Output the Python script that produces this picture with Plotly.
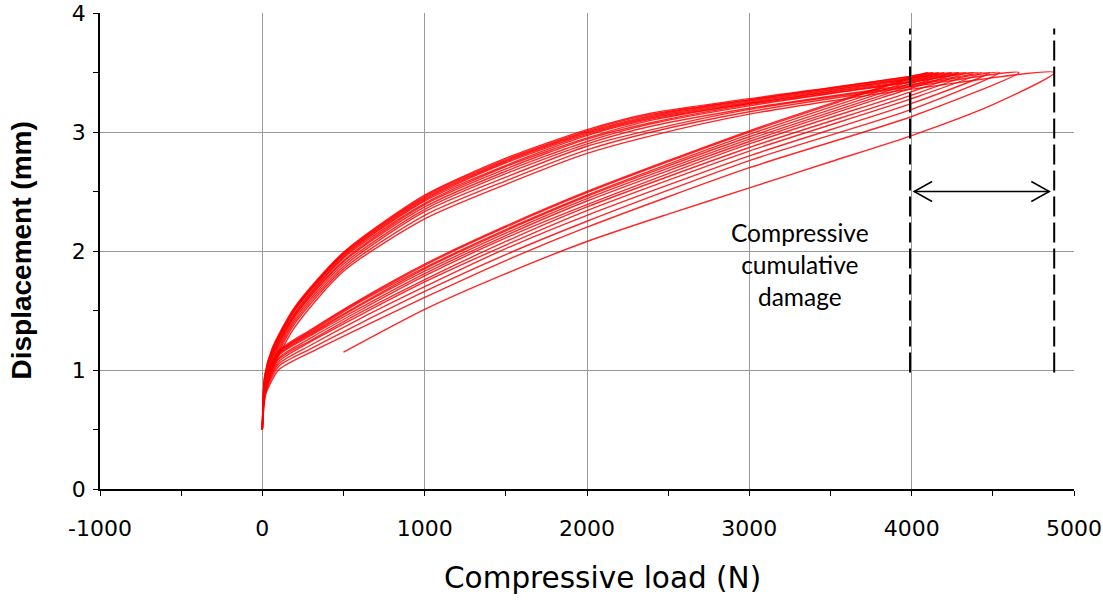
import plotly.graph_objects as go

# Peak of every load cycle (N); all cycles peak at the same displacement (mm)
PEAK_LOAD = [4880, 4660, 4540, 4480, 4430, 4380, 4335, 4290, 4245, 4200, 4165, 4130, 4100]
PEAK_DISP = 3.5

# First loading ramp, starting from the preload
FIRST_LOAD_N = [500, 1000, 1500, 2000, 2500, 3000, 3500, 4000, 4500]
FIRST_LOAD_DISP = [1.15, 1.51, 1.81, 2.08, 2.31, 2.53, 2.75, 2.97, 3.23]

# Reloading branches of cycles 2..13
RELOAD_N = [20, 100, 300, 600, 1000, 1500, 2000, 3000, 4000]
RELOAD_DISP = [
    [0.80, 1.00, 1.15, 1.35, 1.61, 1.92, 2.20, 2.70, 3.13],
    [0.82, 1.03, 1.18, 1.39, 1.66, 1.97, 2.25, 2.76, 3.19],
    [0.84, 1.05, 1.21, 1.43, 1.70, 2.02, 2.30, 2.80, 3.24],
    [0.85, 1.07, 1.24, 1.46, 1.74, 2.05, 2.34, 2.84, 3.28],
    [0.87, 1.09, 1.25, 1.48, 1.76, 2.08, 2.37, 2.87, 3.31],
    [0.88, 1.10, 1.27, 1.50, 1.79, 2.11, 2.39, 2.90, 3.34],
    [0.89, 1.12, 1.29, 1.52, 1.81, 2.13, 2.42, 2.92, 3.37],
    [0.89, 1.13, 1.30, 1.54, 1.83, 2.15, 2.44, 2.94, 3.39],
    [0.90, 1.14, 1.31, 1.55, 1.85, 2.17, 2.46, 2.96, 3.41],
    [0.91, 1.15, 1.32, 1.57, 1.86, 2.18, 2.47, 2.98, 3.43],
    [0.92, 1.15, 1.33, 1.58, 1.88, 2.20, 2.49, 3.00, 3.45],
    [0.92, 1.16, 1.34, 1.59, 1.89, 2.21, 2.50, 3.01, 3.46],
]

# Unloading branches of cycles 1..13 (from the peak back to zero load)
UNLOAD_N = [4000, 3000, 2400, 2000, 1500, 1000, 500, 200, 60, 15, 0]
UNLOAD_DISP = [
    [3.36, 3.15, 2.97, 2.82, 2.56, 2.27, 1.83, 1.36, 1.00, 0.75, 0.50],
    [3.38, 3.17, 3.00, 2.85, 2.59, 2.30, 1.85, 1.39, 1.03, 0.78, 0.50],
    [3.39, 3.19, 3.02, 2.88, 2.62, 2.33, 1.87, 1.41, 1.05, 0.81, 0.50],
    [3.40, 3.20, 3.05, 2.90, 2.65, 2.35, 1.89, 1.43, 1.07, 0.83, 0.50],
    [3.42, 3.22, 3.07, 2.92, 2.67, 2.37, 1.91, 1.45, 1.09, 0.86, 0.50],
    [3.42, 3.23, 3.08, 2.94, 2.69, 2.39, 1.92, 1.46, 1.10, 0.87, 0.50],
    [3.43, 3.24, 3.10, 2.95, 2.71, 2.40, 1.94, 1.47, 1.12, 0.89, 0.50],
    [3.44, 3.24, 3.11, 2.97, 2.72, 2.42, 1.95, 1.48, 1.13, 0.90, 0.50],
    [3.45, 3.25, 3.12, 2.98, 2.74, 2.43, 1.96, 1.50, 1.14, 0.92, 0.50],
    [3.45, 3.26, 3.13, 2.99, 2.75, 2.44, 1.97, 1.51, 1.15, 0.93, 0.50],
    [3.46, 3.27, 3.14, 3.00, 2.76, 2.45, 1.98, 1.51, 1.16, 0.94, 0.50],
    [3.47, 3.27, 3.15, 3.01, 2.77, 2.46, 1.98, 1.52, 1.17, 0.95, 0.50],
    [3.47, 3.28, 3.16, 3.02, 2.78, 2.47, 1.99, 1.53, 1.18, 0.96, 0.50],
]

# Axis ticks
X_TICKS = [-1000, 0, 1000, 2000, 3000, 4000, 5000]
X_TICK_TEXT = ["-1000", "0", "1000", "2000", "3000", "4000", "5000"]
Y_TICKS = [0, 1, 2, 3, 4]

# Damage marker positions
DAMAGE_START = 3990
DAMAGE_END = 4878
MARKER_Y_RANGE = [0.98, 3.87]
ARROW_Y = 2.5
ARROW_X = [4015, 4848]
NOTE_TEXT = "Compressive<br>cumulative<br>damage"
NOTE_POS = (3313, 1.89)

LINE = dict(color="rgba(255,0,0,0.85)", width=1.4, shape="spline", smoothing=0.7)

fig = go.Figure()
for i, peak in enumerate(PEAK_LOAD):
    if i == 0:
        load_x, load_y = FIRST_LOAD_N, FIRST_LOAD_DISP
    else:
        load_x, load_y = RELOAD_N, RELOAD_DISP[i - 1]
    xs = list(load_x) + [peak] + UNLOAD_N
    ys = list(load_y) + [PEAK_DISP] + UNLOAD_DISP[i]
    fig.add_trace(go.Scatter(x=xs, y=ys, mode="lines", line=LINE,
                             showlegend=False, hoverinfo="skip"))

shapes = []
for xv in (DAMAGE_START, DAMAGE_END):
    shapes.append(dict(type="line", xref="x", yref="y", x0=xv, x1=xv,
                       y0=MARKER_Y_RANGE[0], y1=MARKER_Y_RANGE[1],
                       line=dict(color="black", width=2, dash="20px,6px")))
shapes.append(dict(type="line", xref="x", yref="y", x0=ARROW_X[0], x1=ARROW_X[1],
                   y0=ARROW_Y, y1=ARROW_Y, line=dict(color="black", width=1.5)))
# open chevron heads, sized in pixels
shapes.append(dict(type="path", xref="x", yref="y", xsizemode="pixel", ysizemode="pixel",
                   xanchor=ARROW_X[0], yanchor=ARROW_Y, path="M18,10 L0,0 L18,-10",
                   line=dict(color="black", width=1.5)))
shapes.append(dict(type="path", xref="x", yref="y", xsizemode="pixel", ysizemode="pixel",
                   xanchor=ARROW_X[1], yanchor=ARROW_Y, path="M-18,10 L0,0 L-18,-10",
                   line=dict(color="black", width=1.5)))

annotations = [
    dict(x=NOTE_POS[0], y=NOTE_POS[1], xref="x", yref="y", text=NOTE_TEXT,
         showarrow=False, align="center",
         font=dict(family="Lato, 'Open Sans', sans-serif", size=24.5, color="black")),
    dict(x=0.5157, y=0, xref="paper", yref="paper", yshift=-89, text="Compressive load (N)",
         showarrow=False, xanchor="center", yanchor="middle",
         font=dict(family="DejaVu Sans", size=29.5, color="black")),
    dict(x=-0.0816, y=0.5, xref="paper", yref="paper", text="<b>Displacement (mm)</b>",
         textangle=-90, showarrow=False, xanchor="center", yanchor="middle",
         font=dict(family="Liberation Sans, Arial", size=28, color="black")),
]

fig.update_layout(
    width=1103, height=601,
    margin=dict(l=100, r=28.5, t=12.6, b=112),
    plot_bgcolor="white", paper_bgcolor="white",
    shapes=shapes, annotations=annotations,
    font=dict(family="DejaVu Sans", size=22, color="black"),
)
fig.update_xaxes(
    range=[-1000, 5000], tickvals=X_TICKS, ticktext=X_TICK_TEXT, automargin=False,
    showgrid=True, gridcolor="#999999", gridwidth=1.3, zeroline=False,
    showline=True, linecolor="black", linewidth=1.5,
    ticks="outside", ticklen=5, tickcolor="black", ticklabelstandoff=14,
    minor=dict(dtick=500, ticks="outside", ticklen=5, tickcolor="black", showgrid=False),
    tickfont=dict(family="DejaVu Sans", size=22, color="black"),
)
fig.update_yaxes(
    range=[0, 4], tickvals=Y_TICKS, automargin=False,
    showgrid=True, gridcolor="#999999", gridwidth=1.3, zeroline=False,
    showline=True, linecolor="black", linewidth=1.5,
    ticks="outside", ticklen=5, tickcolor="black", ticklabelstandoff=3,
    minor=dict(dtick=0.5, ticks="outside", ticklen=5, tickcolor="black", showgrid=False),
    tickfont=dict(family="DejaVu Sans", size=22, color="black"),
)

fig.write_html("out.html")
